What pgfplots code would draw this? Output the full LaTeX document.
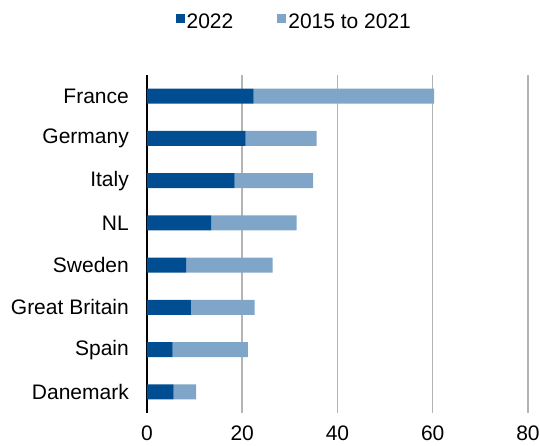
\documentclass[border=0pt]{standalone}
\usepackage{fontspec}
\setmainfont{Liberation Sans}
\usepackage{pgfplots}
\pgfplotsset{compat=1.18}
\definecolor{dark}{RGB}{0,77,145}
\definecolor{light}{RGB}{127,166,200}
\definecolor{gridgray}{RGB}{180,180,180}
\begin{document}
\fontsize{21}{25}\selectfont
\begin{tikzpicture}
\begin{axis}[
  at={(0pt,0pt)}, anchor=south west,
  scale only axis, width=381pt, height=338pt,
  xbar stacked, bar width=15pt,
  xmin=0, xmax=80, ymin=-0.5, ymax=7.5,
  xtick={0,20,40,60,80},
  ytick={0,...,7},
  yticklabels={Danemark,Spain,Great Britain,Sweden,NL,Italy,Germany,France},
  axis x line*=bottom, axis y line*=left,
  x axis line style={draw=none},
  y axis line style={black, line width=1.8pt},
  xmajorgrids, grid style={gridgray, line width=1.5pt},
  major tick length=0pt,
  xticklabel style={yshift=-6pt},
  yticklabel style={xshift=-11pt},
  tick label style={font=\fontsize{21}{25}\selectfont},
  /pgf/number format/assume math mode=true,
  legend columns=2,
  legend style={draw=none, fill=none, at={(0.3866,1.154)}, anchor=center,
    nodes={inner xsep=2pt},
    /tikz/every even column/.append style={column sep=42pt}},
  legend image code/.code={\fill[#1] (0pt,0pt) rectangle (9pt,9pt);},
]
\addplot[fill=dark, draw=none] coordinates {(5.6,0) (5.4,1) (9.2,2) (8.2,3) (13.5,4) (18.4,5) (20.7,6) (22.4,7)};
\addplot[fill=light, draw=none] coordinates {(4.7,0) (15.8,1) (13.4,2) (18.2,3) (17.9,4) (16.5,5) (14.9,6) (37.9,7)};
\legend{2022, 2015 to 2021}
\end{axis}
\pgfresetboundingbox
\path[use as bounding box] (-147pt,-32pt) rectangle (393pt,413pt);
\end{tikzpicture}
\end{document}
